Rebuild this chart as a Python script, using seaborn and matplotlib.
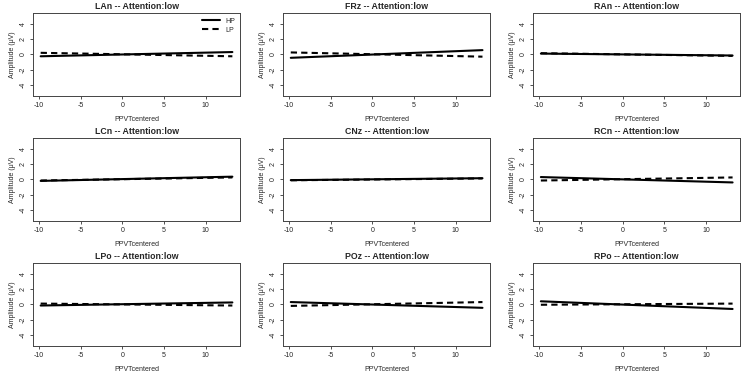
import matplotlib
matplotlib.use("Agg")
import matplotlib.pyplot as plt
import seaborn as sns
import pandas as pd

# electrodes, in panel order
electrodes = ["LAn", "FRz", "RAn", "LCn", "CNz", "RCn", "LPo", "POz", "RPo"]
ppvt = [-9.8, 13.2]
# fitted amplitude at the two ends of PPVTcentered
hp_start = [-0.25, -0.45, 0.10, -0.20, -0.10, 0.30, -0.15, 0.30, 0.40]
hp_end = [0.30, 0.55, -0.15, 0.35, 0.15, -0.40, 0.25, -0.45, -0.60]
lp_start = [0.20, 0.25, 0.15, -0.15, -0.12, -0.15, 0.10, -0.20, -0.05]
lp_end = [-0.25, -0.30, -0.20, 0.25, 0.12, 0.25, -0.15, 0.30, 0.10]

rows = []
for i, el in enumerate(electrodes):
    for grp, s, e in [("HP", hp_start, hp_end), ("LP", lp_start, lp_end)]:
        rows.append((el, grp, ppvt[0], s[i]))
        rows.append((el, grp, ppvt[1], e[i]))
df = pd.DataFrame(rows, columns=["electrode", "group", "PPVTcentered", "amp"])

sns.set_style("ticks")
plt.rcParams["font.family"] = ["Liberation Sans", "DejaVu Sans"]
plt.rcParams["axes.unicode_minus"] = False

fig, axes = plt.subplots(3, 3, figsize=(7.5, 3.78), dpi=100)
fig.subplots_adjust(left=0.044, right=0.987, top=0.966, bottom=0.085,
                    wspace=0.208, hspace=0.506)

for i, (ax, el) in enumerate(zip(axes.flat, electrodes)):
    sub = df[df["electrode"] == el]
    sns.lineplot(data=sub, x="PPVTcentered", y="amp", style="group",
                 style_order=["HP", "LP"], dashes={"HP": "", "LP": (3, 2)},
                 color="black", lw=1.5, ax=ax, legend=(i == 0))
    ax.set_xlim(-10.72, 14.12)
    ax.set_ylim(-5.4, 5.4)
    ax.set_xticks([-10, -5, 0, 5, 10])
    ax.set_yticks([-4, -2, 0, 2, 4])
    ax.tick_params(labelsize=5, length=2.5, width=0.6, pad=2, color="#333333")
    for lab in ax.get_yticklabels():
        lab.set_rotation(90)
        lab.set_va("center")
    ax.set_title(f"{el} -- Attention:low", fontsize=6.3, fontweight="bold", pad=3)
    ax.set_xlabel("PPVTcentered", fontsize=5, labelpad=5)
    ax.set_ylabel("Amplitude (μV)", fontsize=5, labelpad=3)
    for sp in ax.spines.values():
        sp.set_linewidth(0.7)
        sp.set_color("#444444")
    if i == 0:
        ax.legend(loc="upper right", frameon=False, fontsize=5,
                  handlelength=2.5, borderaxespad=0.3, labelspacing=0.3)

fig.savefig("out.png", dpi=100)
